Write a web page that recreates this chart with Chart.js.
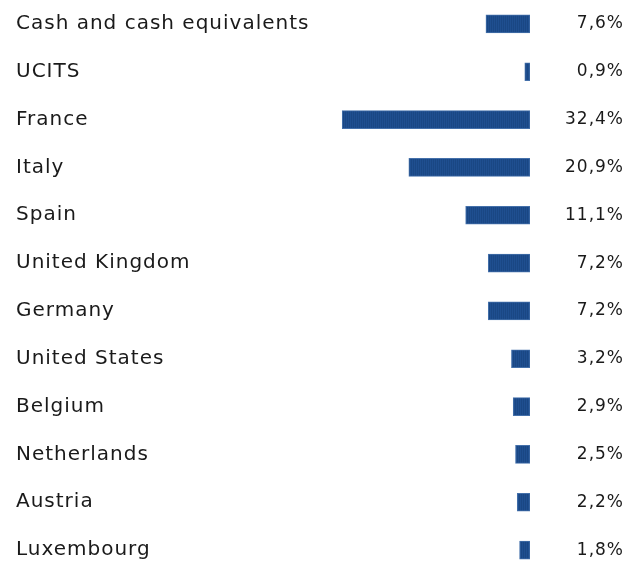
<!DOCTYPE html>
<html>
<head>
<meta charset="utf-8">
<script src="https://cdn.jsdelivr.net/npm/chart.js@4"></script>
<style>
  html, body { margin: 0; padding: 0; background: #fff; overflow: hidden; }
  #wrap { position: relative; width: 640px; height: 598px; margin-top: -12px; }
</style>
</head>
<body>
<div id="wrap"><canvas id="chart"></canvas></div>
<script>
// ─── Data ─────────────────────────────────────────────────────────────────────
const categories = [
  'Cash and cash equivalents', 'UCITS', 'France', 'Italy', 'Spain',
  'United Kingdom', 'Germany', 'United States', 'Belgium', 'Netherlands',
  'Austria', 'Luxembourg'
];
const weights = [7.6, 0.9, 32.4, 20.9, 11.1, 7.2, 7.2, 3.2, 2.9, 2.5, 2.2, 1.8];
const weightLabels = weights.map(v => v.toFixed(1).replace('.', ',') + '%');

// ─── Style ────────────────────────────────────────────────────────────────────
const FONT = { family: "'DejaVu Sans', sans-serif", size: 20 };
const VALUE_FONT = { family: "'DejaVu Sans', sans-serif", size: 17 };
const TEXT = '#1a1a1a';

// fine vertical hatch like the reference bars
function stripePattern() {
  const c = document.createElement('canvas');
  c.width = 2; c.height = 1;
  const g = c.getContext('2d');
  g.fillStyle = '#1f4f90'; g.fillRect(0, 0, 1, 1);
  g.fillStyle = '#1a4784'; g.fillRect(1, 0, 1, 1);
  return g.createPattern(c, 'repeat');
}

// wider tracking, closer to the geometric face in the reference
const trackingPlugin = {
  id: 'tracking',
  beforeDraw(chart) { chart.ctx.letterSpacing = '1px'; },
};

new Chart(document.getElementById('chart'), {
  type: 'bar',
  data: {
    labels: categories,
    datasets: [{
      data: weights,
      backgroundColor: stripePattern(),
      borderColor: '#4470aa',
      borderWidth: 1,
      borderSkipped: false,
      barThickness: 18,
    }],
  },
  options: {
    indexAxis: 'y',
    responsive: true,
    maintainAspectRatio: false,
    animation: false,
    layout: { padding: { left: 16, right: 16, top: 0, bottom: 0 } },
    plugins: { legend: { display: false }, tooltip: { enabled: false } },
    scales: {
      x: { display: false, reverse: true, min: 0, max: 34.5 },
      y: {
        position: 'left',
        grid: { display: false },
        border: { display: false },
        ticks: { crossAlign: 'far', color: TEXT, font: FONT, padding: 0 },
        afterFit(scale) { scale.width = 314; },
      },
      y2: {
        type: 'category',
        labels: weightLabels,
        position: 'right',
        offset: true,
        grid: { display: false },
        border: { display: false },
        ticks: { crossAlign: 'far', color: TEXT, font: VALUE_FONT, padding: 0 },
        afterFit(scale) { scale.width = 94; },
      },
    },
  },
  plugins: [trackingPlugin],
});
</script>
</body>
</html>
